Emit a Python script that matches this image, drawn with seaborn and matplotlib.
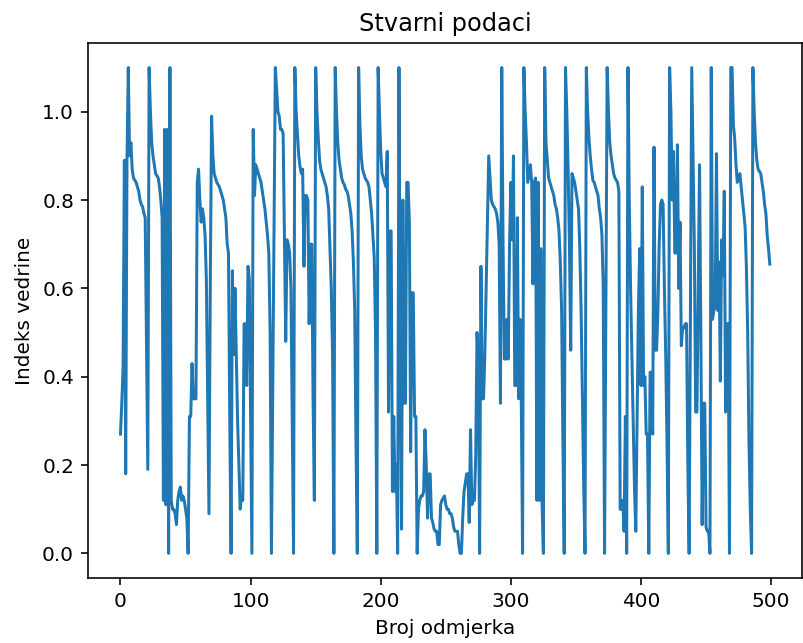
import numpy as np
import matplotlib
matplotlib.use("Agg")
import matplotlib.pyplot as plt
import seaborn as sns

# Indeks vedrine, ocitan sa slike, u pet dijelova (ukupno 500 odmjeraka)
vedrina_1 = [
    0.27, 0.34, 0.42, 0.89, 0.18, 0.89, 1.1, 0.90, 0.93, 0.87,
    0.85, 0.845, 0.84, 0.83, 0.82, 0.80, 0.79, 0.785, 0.77, 0.76,
    0.48, 0.19, 1.1, 1.0, 0.93, 0.90, 0.88, 0.86, 0.855, 0.85,
    0.83, 0.80, 0.76, 0.12, 0.96, 0.11, 0.96, 0.0, 1.1, 0.12,
    0.10, 0.10, 0.09, 0.065, 0.12, 0.14, 0.15, 0.12, 0.13, 0.12,
    0.10, 0.08, 0.0, 0.31, 0.31, 0.43, 0.35, 0.35, 0.35, 0.84,
    0.87, 0.80, 0.75, 0.78, 0.76, 0.72, 0.62, 0.35, 0.09, 0.6,
    0.99, 0.90, 0.86, 0.85, 0.84, 0.835, 0.83, 0.82, 0.81, 0.80, 0.78,
    0.76, 0.70, 0.68, 0.3, 0.0, 0.64, 0.45, 0.60, 0.45, 0.3,
    0.2, 0.1, 0.13, 0.12, 0.52, 0.52, 0.38, 0.65, 0.62, 0.3,
]

vedrina_2 = [
    0.0, 0.96, 0.81, 0.88, 0.87, 0.86, 0.85, 0.84, 0.82, 0.80,
    0.78, 0.75, 0.72, 0.68, 0.5, 0.0, 0.37, 0.73, 1.1, 1.05,
    1.0, 0.99, 0.96, 0.96, 0.95, 0.71, 0.48, 0.71, 0.70, 0.68,
    0.6, 0.3, 0.0, 1.1, 1.0, 0.95, 0.90, 0.875, 0.86, 0.87,
    0.65, 0.81, 0.81, 0.80, 0.52, 0.70, 0.70, 0.35, 0.12, 1.1,
    1.0, 0.94, 0.89, 0.87, 0.86, 0.85, 0.84, 0.83, 0.81, 0.78,
    0.69, 0.6, 0.45, 0.0, 1.1, 1.0, 0.93, 0.89, 0.87, 0.85,
    0.84, 0.835, 0.825, 0.82, 0.81, 0.79, 0.77, 0.73, 0.66, 0.55, 0.25,
    0.0, 1.1, 0.97, 0.90, 0.87, 0.86, 0.85, 0.845, 0.84, 0.83,
    0.80, 0.77, 0.72, 0.67, 0.5, 0.0, 1.1, 1.0, 0.91, 0.86,
]

vedrina_3 = [
    0.85, 0.84, 0.83, 0.91, 0.32, 0.73, 0.73, 0.14, 0.31, 0.14,
    0.2, 0.0, 1.1, 0.5, 0.055, 0.80, 0.34, 0.34, 0.84, 0.84,
    0.75, 0.23, 0.59, 0.59, 0.31, 0.31, 0.0, 0.10, 0.12, 0.13,
    0.13, 0.14, 0.28, 0.2, 0.08, 0.18, 0.18, 0.08, 0.07, 0.055,
    0.05, 0.05, 0.02, 0.02, 0.11, 0.12, 0.125, 0.13, 0.11, 0.10,
    0.10, 0.09, 0.09, 0.08, 0.06, 0.05, 0.05, 0.05, 0.02, 0.0,
    0.0, 0.08, 0.14, 0.16, 0.18, 0.18, 0.07, 0.28, 0.11, 0.12,
    0.12, 0.22, 0.50, 0.44, 0.0, 0.65, 0.35, 0.35, 0.45, 0.6,
    0.75, 0.90, 0.85, 0.80, 0.79, 0.785, 0.78, 0.77, 0.75, 0.7, 0.34,
    1.1, 0.7, 0.44, 0.44, 0.53, 0.44, 0.70, 0.84, 0.71, 0.90,
]

vedrina_4 = [
    0.38, 0.38, 0.76, 0.35, 0.53, 0.35, 0.0, 1.1, 1.0, 0.93,
    0.84, 0.86, 0.88, 0.84, 0.61, 0.84, 0.85, 0.12, 0.84, 0.12,
    0.69, 0.11, 0.0, 1.1, 0.93, 0.89, 0.85, 0.84, 0.83, 0.82,
    0.81, 0.79, 0.78, 0.76, 0.73, 0.66, 0.55, 0.25, 0.0, 1.1,
    1.0, 0.87, 0.7, 0.46, 0.86, 0.85, 0.84, 0.82, 0.80, 0.78,
    0.69, 0.55, 0.35, 0.15, 0.0, 1.1, 1.0, 0.94, 0.90, 0.87,
    0.845, 0.84, 0.83, 0.82, 0.81, 0.78, 0.76, 0.72, 0.6, 0.0,
    0.55, 1.1, 1.0, 0.93, 0.90, 0.88, 0.86, 0.85, 0.845, 0.84, 0.82,
    0.1, 0.1, 0.12, 0.05, 0.31, 0.0, 1.1, 0.8, 0.6, 0.45,
    0.3, 0.15, 0.05, 0.3, 0.55, 0.69, 0.38, 0.83, 0.38, 0.40,
]

vedrina_5 = [
    0.27, 0.27, 0.0, 0.41, 0.41, 0.27, 0.92, 0.46, 0.46, 0.55,
    0.7, 0.79, 0.80, 0.79, 0.6, 0.45, 0.25, 0.0, 1.1, 1.0,
    0.80, 0.91, 0.68, 0.68, 0.925, 0.60, 0.75, 0.47, 0.51, 0.51,
    0.52, 0.52, 0.2, 0.0, 0.55, 1.1, 0.9, 0.70, 0.32, 0.32,
    0.6, 0.88, 0.5, 0.065, 0.34, 0.34, 0.06, 0.05, 0.05, 0.0,
    1.1, 0.53, 0.55, 0.56, 0.905, 0.55, 0.66, 0.39, 0.71, 0.63,
    0.82, 0.32, 0.52, 0.52, 0.0, 1.1, 1.1, 0.97, 0.94, 0.88,
    0.84, 0.85, 0.86, 0.83, 0.80, 0.77, 0.74, 0.65, 0.5, 0.25,
    0.1, 0.0, 1.1, 1.0, 0.93, 0.89, 0.87, 0.865, 0.86, 0.84, 0.82,
    0.79, 0.77, 0.72, 0.69, 0.655,
]

vedrina = vedrina_1 + vedrina_2 + vedrina_3 + vedrina_4 + vedrina_5
odmjerci = np.arange(len(vedrina))

# Slika 803x643 px
fig, ax = plt.subplots(figsize=(803 / 144, 643 / 144), dpi=144)
fig.subplots_adjust(left=0.1096, right=0.9991, top=0.9327, bottom=0.1016)

sns.lineplot(x=odmjerci, y=vedrina, ax=ax, color='#1f77b4', linewidth=1.5)

ax.set_title('Stvarni podaci')
ax.set_xlabel('Broj odmjerka')
ax.set_ylabel('Indeks vedrine')

plt.savefig('out.png', dpi=144)
